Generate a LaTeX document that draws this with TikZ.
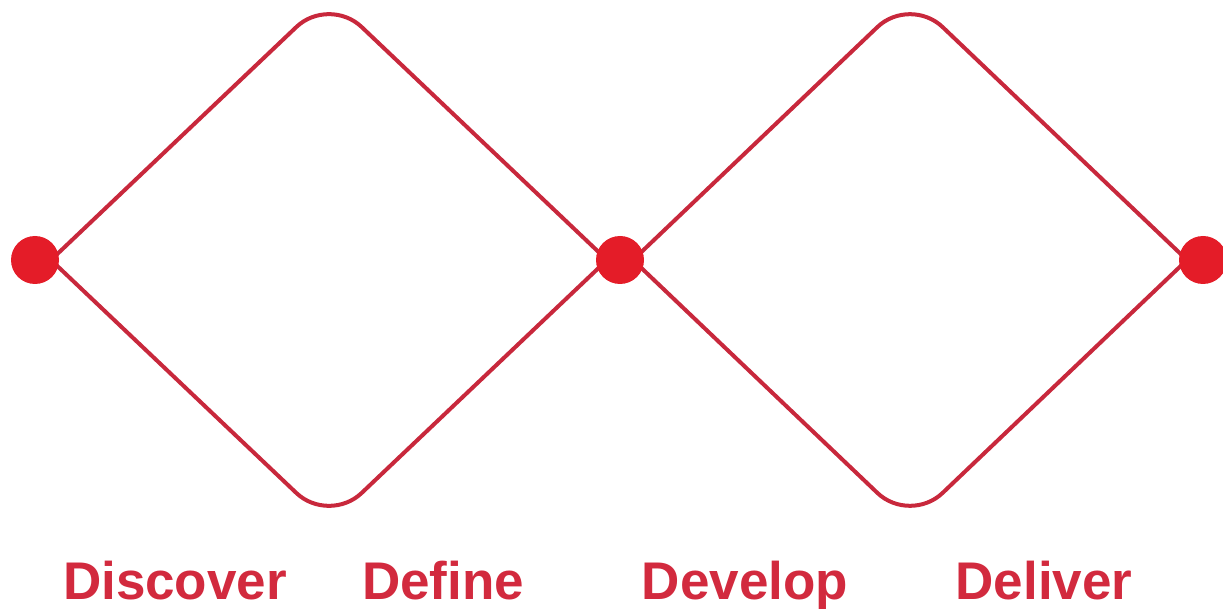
\documentclass[tikz,border=0pt]{standalone}
\usepackage{fontspec}
\setmainfont{Liberation Sans}
\begin{document}
\begin{tikzpicture}[x=1pt,y=-1pt,
  ln/.style={draw=lineRed,line width=4pt,rounded corners=45pt},
  dot/.style={circle,fill=dotRed,inner sep=0pt,minimum size=48pt},
  lbl/.style={text=textRed,font=\fontsize{53}{53}\selectfont\bfseries,anchor=base,inner sep=0pt}]
\definecolor{lineRed}{HTML}{C8283C}
\definecolor{dotRed}{HTML}{E41C28}
\definecolor{textRed}{HTML}{D22A3E}
\useasboundingbox (0,0) rectangle (1223,609);
% diamond vertices
\coordinate (l1) at (51,260);
\coordinate (r1) at (607,260);
\coordinate (t1) at (329,-4);
\coordinate (b1) at (329,524);
\coordinate (l2) at (633,260);
\coordinate (r2) at (1187,260);
\coordinate (t2) at (910,-4);
\coordinate (b2) at (910,524);
\draw[ln] (l1) -- (t1) -- (r1);
\draw[ln] (l1) -- (b1) -- (r1);
\draw[ln] (l2) -- (t2) -- (r2);
\draw[ln] (l2) -- (b2) -- (r2);
\node[dot] (d1) at (35,260) {};
\node[dot] (d2) at (620,260) {};
\node[dot] (d3) at (1203,260) {};
\node[lbl] (lab1) at (175,599) {Discover};
\node[lbl] (lab2) at (443,599) {Define};
\node[lbl] (lab3) at (745,599) {Develop};
\node[lbl] (lab4) at (1044,599) {Deliver};
\end{tikzpicture}
\end{document}
